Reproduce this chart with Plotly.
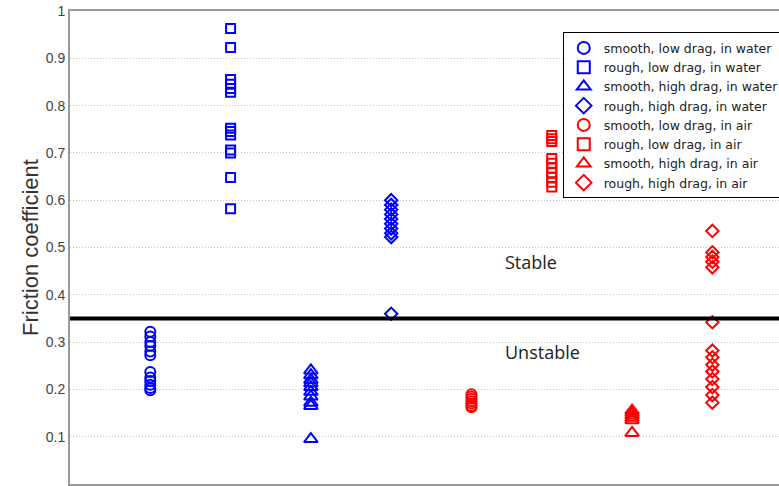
import plotly.graph_objects as go

# ---- data ----
series_names = [
    "smooth, low drag, in water",
    "rough, low drag, in water",
    "smooth, high drag, in water",
    "rough, high drag, in water",
    "smooth, low drag, in air",
    "rough, low drag, in air",
    "smooth, high drag, in air",
    "rough, high drag, in air",
]
series_x = [1, 2, 3, 4, 5, 6, 7, 8]

smooth_low_water = [0.322, 0.312, 0.300, 0.292, 0.280, 0.272, 0.237, 0.225, 0.218, 0.210, 0.203, 0.198]
rough_low_water = [0.963, 0.923, 0.855, 0.845, 0.836, 0.828, 0.752, 0.745, 0.738, 0.706, 0.700, 0.648, 0.582]
smooth_high_water = [0.240, 0.230, 0.220, 0.213, 0.205, 0.195, 0.185, 0.172, 0.165, 0.095]
rough_high_water = [0.600, 0.590, 0.580, 0.570, 0.560, 0.550, 0.540, 0.530, 0.522, 0.360]
smooth_low_air = [0.190, 0.185, 0.180, 0.175, 0.170, 0.165, 0.162]
rough_low_air = [0.737, 0.730, 0.724, 0.688, 0.678, 0.668, 0.658, 0.648, 0.638, 0.628]
smooth_high_air = [0.155, 0.150, 0.145, 0.140, 0.135, 0.108]
rough_high_air = [0.535, 0.490, 0.480, 0.470, 0.458, 0.342, 0.282, 0.268, 0.252, 0.238, 0.222, 0.205, 0.188, 0.172]

series_values = [smooth_low_water, rough_low_water, smooth_high_water, rough_high_water,
                 smooth_low_air, rough_low_air, smooth_high_air, rough_high_air]
series_symbols = ["circle-open", "square-open", "triangle-up-open", "diamond-open"] * 2
series_colors = ["#0000FF"] * 4 + ["#FF0000"] * 4
series_sizes = [10, 9, 12, 9.5, 10, 9, 12, 9.5]

threshold = 0.35
y_ticks = [0, 0.1, 0.2, 0.3, 0.4, 0.5, 0.6, 0.7, 0.8, 0.9, 1]
region_labels = ["Stable", "Unstable"]
region_label_pos = [(5.39, 0.469), (5.39, 0.279)]

fig = go.Figure()
for name, x, vals, sym, col, sz in zip(series_names, series_x, series_values,
                                       series_symbols, series_colors, series_sizes):
    fig.add_trace(go.Scatter(
        x=[x] * len(vals), y=vals, mode="markers", name=name,
        marker=dict(symbol=sym, color=col, size=sz, line=dict(color=col, width=2)),
    ))

fig.add_shape(type="line", xref="paper", yref="y", x0=0, x1=1, y0=threshold, y1=threshold,
              line=dict(color="black", width=4))

for txt, (lx, ly) in zip(region_labels, region_label_pos):
    fig.add_annotation(x=lx, y=ly, text=txt, showarrow=False, xanchor="left", yanchor="middle",
                       font=dict(family="Open Sans, sans-serif", size=18, color="#222"))

fig.update_layout(
    width=779, height=486,
    margin=dict(l=70, r=0, t=11, b=2, autoexpand=False),
    paper_bgcolor="white", plot_bgcolor="white",
    font=dict(family="Liberation Sans, Arial, sans-serif", color="#333"),
    legend=dict(x=0.695, y=0.955, xanchor="left", yanchor="top",
                bgcolor="white", bordercolor="black", borderwidth=1,
                font=dict(family="DejaVu Sans, sans-serif", size=12.5, color="#222"),
                itemsizing="constant", tracegroupgap=0, itemwidth=30),
    showlegend=True,
)
fig.update_xaxes(range=[0, 8.83], showticklabels=False, showgrid=False, zeroline=False,
                 automargin=False,
                 showline=True, linecolor="#999", linewidth=2, mirror=True, ticks="")
fig.update_yaxes(range=[0, 1], tickvals=y_ticks, showgrid=True, gridcolor="#c4c4c4",
                 griddash="1px,2px", automargin=False,
                 gridwidth=1, zeroline=False, showline=True, linecolor="#999", linewidth=2,
                 ticks="", tickfont=dict(size=14, color="#444"),
                 title=dict(text="Friction coefficient", font=dict(size=22, color="#333"), standoff=1))

fig.write_html("out.html", post_script="document.body.style.margin='0';",
               config={"displayModeBar": False})
